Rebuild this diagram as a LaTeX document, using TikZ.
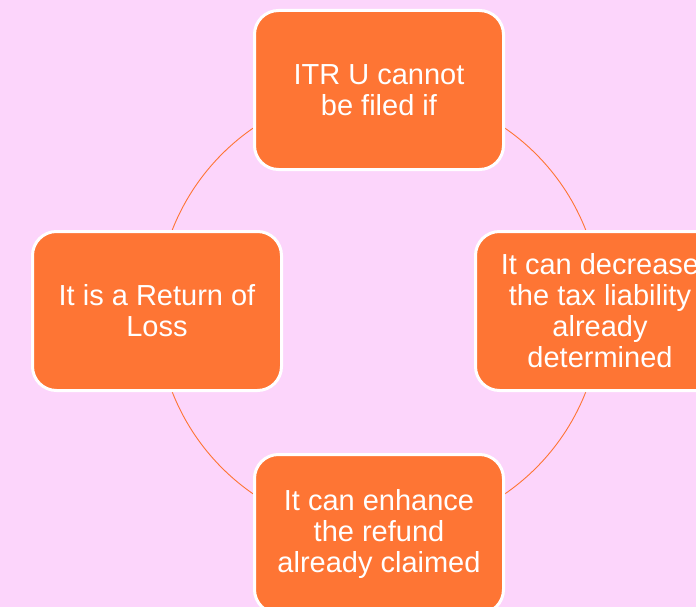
\documentclass[tikz,border=0pt]{standalone}
\usepackage{fontspec}
\setmainfont{Liberation Sans}
\usepackage{tikz}
\usetikzlibrary{positioning, calc}

\definecolor{bgpink}{HTML}{FCD5FB}
\definecolor{boxorange}{HTML}{FE7534}

\begin{document}
\begin{tikzpicture}[
  x=1pt, y=-1pt,
  stage/.style={rectangle, draw=white, line width=3pt, fill=boxorange, rounded corners=24pt, minimum width=249pt, minimum height=159pt, text=white, align=center, font=\fontsize{29}{31}\selectfont, inner sep=2pt},
  ring/.style={draw=boxorange, line width=0.9pt}
]

% Background and page size
\fill[bgpink] (0,0) rectangle (696,607);
\useasboundingbox (0,0) rectangle (696,607);

% Cycle ring
\coordinate (hub) at (379,311);
\draw[ring] (hub) circle (222pt);

% Stages round the ring
\node[stage] (itr) at ($(hub)+(0,-221)$) {ITR U cannot\\be filed if};
\node[stage] (decrease) at ($(hub)+(221,0)$) {It can decrease\\the tax liability\\already\\determined};
\node[stage] (refund) at ($(hub)+(0,223)$) {It can enhance\\the refund\\already claimed};
\node[stage] (loss) at ($(hub)+(-222,0)$) {It is a Return of\\Loss};

\end{tikzpicture}
\end{document}
